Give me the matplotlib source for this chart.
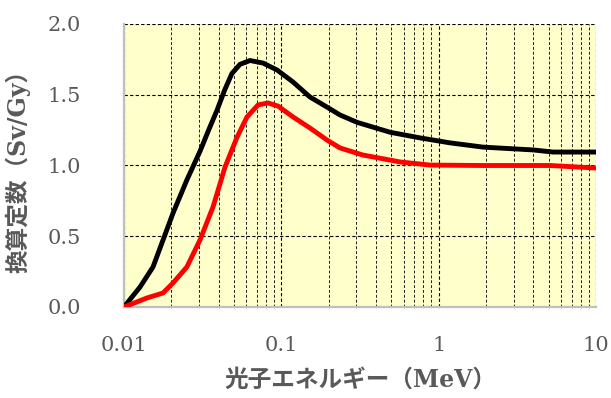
import matplotlib
matplotlib.use('Agg')
import matplotlib.pyplot as plt
from matplotlib.ticker import LogLocator, FixedLocator, NullFormatter

# photon energy (MeV) vs conversion coefficient (Sv/Gy)
e_black = [0.01, 0.01264, 0.01529, 0.0177, 0.0205, 0.0251, 0.0304, 0.0345, 0.039,
           0.0435, 0.0485, 0.0546, 0.0632, 0.0765, 0.0939, 0.1187, 0.152, 0.195, 0.236,
           0.303, 0.491, 0.762, 1.18, 1.91, 3.98, 5.34, 10]
v_black = [0.0, 0.141, 0.283, 0.473, 0.664, 0.898, 1.10, 1.25, 1.39,
           1.53, 1.65, 1.715, 1.742, 1.724, 1.675, 1.59, 1.484, 1.413, 1.357,
           1.305, 1.235, 1.195, 1.16, 1.13, 1.11, 1.095, 1.095]

e_red = [0.01, 0.014, 0.0177, 0.0205, 0.0251, 0.0304, 0.0368, 0.0439, 0.0523,
         0.0605, 0.0711, 0.0823, 0.0953, 0.1187, 0.152, 0.195, 0.236, 0.33,
         0.569, 0.88, 1.91, 5.1, 10]
v_red = [0.0, 0.064, 0.099, 0.17, 0.283, 0.473, 0.707, 0.99, 1.20,
         1.343, 1.428, 1.442, 1.42, 1.343, 1.265, 1.18, 1.124, 1.074,
         1.025, 1.003, 1.0, 1.0, 0.982]

x_ticks = [0.01, 0.1, 1, 10]
x_labels = ['0.01', '0.1', '1', '10']
y_ticks = [0.0, 0.5, 1.0, 1.5, 2.0]
y_labels = ['0.0', '0.5', '1.0', '1.5', '2.0']

grey = '#595959'

fig = plt.figure(figsize=(6.11, 3.98), dpi=100)
ax = fig.add_axes([124/611, 1-307/398, 472/611, 283/398])
ax.set_facecolor('#FFFFCC')

ax.plot(e_black, v_black, color='black', lw=3.5, solid_capstyle='round',
        solid_joinstyle='round', zorder=3)
ax.plot(e_red, v_red, color='#FF0000', lw=3.5, solid_capstyle='round',
        solid_joinstyle='round', zorder=3)

ax.set_xscale('log')
ax.set_xlim(0.01, 10)
ax.set_ylim(0, 2.0)

ax.xaxis.set_major_locator(FixedLocator(x_ticks))
ax.set_xticklabels(x_labels)
ax.xaxis.set_minor_locator(LogLocator(base=10, subs=range(2, 10)))
ax.xaxis.set_minor_formatter(NullFormatter())
ax.set_yticks(y_ticks)
ax.set_yticklabels(y_labels)

ax.grid(which='major', axis='both', color='black', ls=(0, (3, 2)), lw=0.8)
ax.grid(which='minor', axis='x', color='#222222', ls=(0, (3, 2)), lw=0.7)
ax.set_axisbelow(True)

for side in ['top', 'right']:
    ax.spines[side].set_visible(False)
for side in ['left', 'bottom']:
    ax.spines[side].set_color('#BFBFBF')
    ax.spines[side].set_linewidth(1.6)

ax.tick_params(which='both', length=0)
ax.tick_params(axis='x', pad=21)
ax.tick_params(axis='y', pad=31)
for lbl in ax.get_xticklabels() + ax.get_yticklabels():
    lbl.set_fontfamily('DejaVu Serif')
    lbl.set_fontsize(15)
    lbl.set_color(grey)

label_font = ['DejaVu Serif', 'Noto Sans CJK JP']
ax.set_xlabel('光子エネルギー（MeV）', family=label_font, fontsize=17,
              fontweight='bold', color=grey, labelpad=9)
ax.set_ylabel('換算定数（Sv/Gy）', family=label_font, fontsize=17,
              fontweight='bold', color=grey, labelpad=12)

fig.savefig('out.png', dpi=100)
